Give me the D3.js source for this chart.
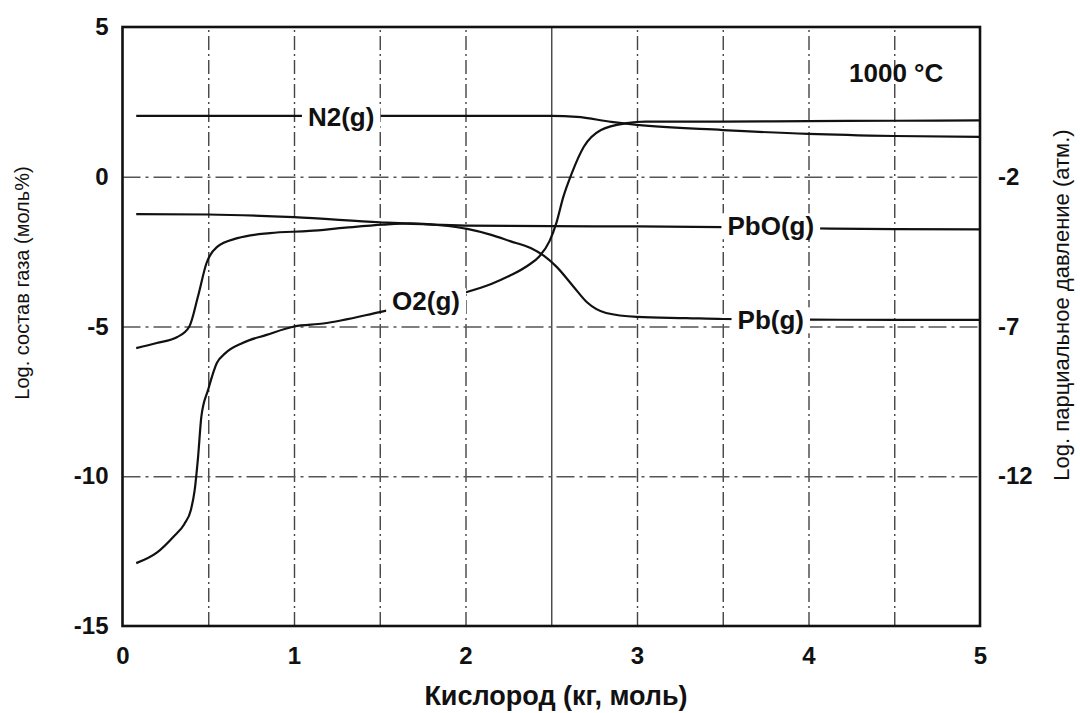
<!DOCTYPE html>
<html>
<head>
<meta charset="utf-8">
<script src="https://cdn.jsdelivr.net/npm/d3@7"></script>
<style>
	body { margin: 0; background: #fff; }
	svg { display: block; font-family: "Liberation Sans", Arial, sans-serif; }
</style>
</head>
<body>
<script>
// Curve data (x = oxygen, y = log gas composition)
const n2X = [0.08, 1.0, 2.0, 2.5, 2.65, 2.85, 3.0, 3.5, 4.0, 4.5, 5.0];
const n2Y = [2.03, 2.03, 2.03, 2.03, 2.0, 1.83, 1.73, 1.56, 1.43, 1.36, 1.33];

const o2X = [0.08, 0.2, 0.3, 0.36, 0.4, 0.42, 0.44, 0.46, 0.5, 0.55, 0.6, 0.7, 0.84, 1.0, 1.17, 1.5, 1.75, 2.0, 2.15, 2.26, 2.36, 2.43, 2.49, 2.53, 2.57, 2.62, 2.69, 2.79, 2.94, 3.05, 3.5, 4.0, 4.5, 5.0];
const o2Y = [-12.9, -12.55, -12.0, -11.6, -11.1, -10.5, -9.4, -8.0, -7.1, -6.22, -5.89, -5.55, -5.28, -5.0, -4.9, -4.52, -4.2, -3.86, -3.58, -3.3, -2.98, -2.66, -2.15, -1.54, -0.68, 0.12, 1.0, 1.56, 1.79, 1.84, 1.84, 1.86, 1.87, 1.88];

const pbX = [0.08, 0.2, 0.32, 0.39, 0.44, 0.49, 0.55, 0.67, 0.86, 1.09, 1.3, 1.52, 1.68, 1.85, 2.01, 2.15, 2.26, 2.38, 2.46, 2.53, 2.63, 2.71, 2.82, 3.0, 3.29, 3.5, 4.0, 4.5, 5.0];
const pbY = [-5.72, -5.55, -5.35, -5.0, -4.0, -2.88, -2.35, -2.05, -1.88, -1.81, -1.7, -1.6, -1.56, -1.62, -1.74, -1.94, -2.15, -2.38, -2.65, -3.0, -3.67, -4.2, -4.55, -4.68, -4.72, -4.75, -4.77, -4.78, -4.78];

const pboX = [0.08, 0.5, 1.0, 1.5, 2.0, 2.5, 3.0, 3.5, 4.0, 4.5, 5.0];
const pboY = [-1.25, -1.26, -1.35, -1.52, -1.63, -1.65, -1.66, -1.68, -1.72, -1.75, -1.76];

// Axis ticks
const xTicks = [0, 1, 2, 3, 4, 5];
const xGrid = [0.5, 1, 1.5, 2, 2.5, 3, 3.5, 4, 4.5];
const yTicks = [5, 0, -5, -10, -15];
const yGrid = [0, -5, -10];
const yRightTicks = [-2, -7, -12];

// Curve labels (data coordinates)
const labels = [
	{ text: 'N2(g)', x: 1.275, y: 2.0 },
	{ text: 'O2(g)', x: 1.77, y: -4.15 },
	{ text: 'PbO(g)', x: 3.78, y: -1.65 },
	{ text: 'Pb(g)', x: 3.78, y: -4.79 }
];

const width = 1080, height = 713;
const plot = { left: 122.5, right: 980, top: 27, bottom: 626 };

const svg = d3.select('body').append('svg')
	.attr('width', width)
	.attr('height', height);

svg.append('rect').attr('width', width).attr('height', height).attr('fill', '#fff');

const xScale = d3.scaleLinear().domain([0, 5]).range([plot.left, plot.right]);
const yScale = d3.scaleLinear().domain([5, -15]).range([plot.top, plot.bottom]);
const yRightScale = d3.scaleLinear().domain([3, -17]).range([plot.top, plot.bottom]);

const plotH = plot.bottom - plot.top;
const plotW = plot.right - plot.left;

// Grid lines (dash-dot like the scan)
const gx = svg.append('g')
	.attr('transform', `translate(0, ${plot.bottom})`)
	.call(d3.axisBottom(xScale).tickValues(xGrid).tickSize(-plotH).tickFormat(''));
gx.select('.domain').remove();
gx.selectAll('line')
	.attr('stroke', '#444')
	.attr('stroke-width', 1.4)
	.attr('stroke-dasharray', d => d === 2.5 ? null : '14,4,2,4');

const gy = svg.append('g')
	.attr('transform', `translate(${plot.left}, 0)`)
	.call(d3.axisLeft(yScale).tickValues(yGrid).tickSize(-plotW).tickFormat(''));
gy.select('.domain').remove();
gy.selectAll('line')
	.attr('stroke', '#555')
	.attr('stroke-width', 1.4)
	.attr('stroke-dasharray', '18,5,3,5');

// Curves
const line = d3.line()
	.x(d => xScale(d[0]))
	.y(d => yScale(d[1]))
	.curve(d3.curveMonotoneX);

const series = [
	d3.zip(n2X, n2Y),
	d3.zip(o2X, o2Y),
	d3.zip(pbX, pbY),
	d3.zip(pboX, pboY)
];

svg.append('g').selectAll('path')
	.data(series)
	.enter().append('path')
	.attr('d', line)
	.attr('fill', 'none')
	.attr('stroke', '#111')
	.attr('stroke-width', 2.2);

// Curve labels with white backing that breaks the lines
const labelGroup = svg.append('g');
labels.forEach(l => {
	const g = labelGroup.append('g');
	const bg = g.append('rect').attr('fill', '#fff');
	const t = g.append('text')
		.attr('x', xScale(l.x))
		.attr('y', yScale(l.y))
		.attr('dy', '0.35em')
		.attr('text-anchor', 'middle')
		.attr('font-size', 26)
		.attr('font-weight', 'bold')
		.attr('fill', '#111')
		.text(l.text);
	const b = t.node().getBBox();
	bg.attr('x', b.x - 6).attr('y', b.y + 2)
		.attr('width', b.width + 12).attr('height', b.height - 4);
});

// Temperature note
svg.append('text')
	.attr('x', 849)
	.attr('y', 82)
	.attr('font-size', 26)
	.attr('font-weight', 'bold')
	.attr('fill', '#111')
	.text('1000 °C');

// Frame
svg.append('rect')
	.attr('x', plot.left)
	.attr('y', plot.top)
	.attr('width', plotW)
	.attr('height', plotH)
	.attr('fill', 'none')
	.attr('stroke', '#111')
	.attr('stroke-width', 2.6);

// Tick labels
function styleTicks(g) {
	g.select('.domain').remove();
	g.attr('font-family', '"Liberation Sans", Arial, sans-serif')
		.attr('font-size', 24)
		.attr('font-weight', 'bold');
	g.selectAll('text').attr('fill', '#111');
}

const fmt = d => String(d);

const xAxis = svg.append('g')
	.attr('transform', `translate(0, ${plot.bottom})`)
	.call(d3.axisBottom(xScale).tickValues(xTicks).tickSize(0).tickFormat(fmt))
	.call(styleTicks);
xAxis.selectAll('text').attr('y', 30).attr('dy', '0.35em');

svg.append('g')
	.attr('transform', `translate(${plot.left}, 0)`)
	.call(d3.axisLeft(yScale).tickValues(yTicks).tickSize(0).tickPadding(14).tickFormat(fmt))
	.call(styleTicks);

svg.append('g')
	.attr('transform', `translate(${plot.right}, 0)`)
	.call(d3.axisRight(yRightScale).tickValues(yRightTicks).tickSize(0).tickPadding(18).tickFormat(fmt))
	.call(styleTicks);

// Axis titles
svg.append('text')
	.attr('x', 556)
	.attr('y', 705)
	.attr('text-anchor', 'middle')
	.attr('font-size', 27)
	.attr('font-weight', 'bold')
	.attr('fill', '#111')
	.text('Кислород (кг, моль)');

svg.append('text')
	.attr('transform', 'translate(29, 283) rotate(-90)')
	.attr('text-anchor', 'middle')
	.attr('font-size', 20)
	.attr('fill', '#111')
	.text('Log. состав газа (моль%)');

svg.append('text')
	.attr('transform', 'translate(1069, 305) rotate(-90)')
	.attr('text-anchor', 'middle')
	.attr('font-size', 22)
	.attr('fill', '#111')
	.text('Log. парциальное давление (атм.)');
</script>
</body>
</html>
